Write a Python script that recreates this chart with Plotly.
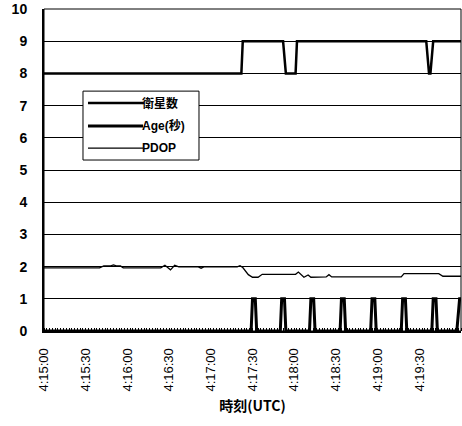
import plotly.graph_objects as go

DAY = "2000-01-01 "

# 衛星数 (number of satellites)
sat_times = ["4:15:00", "4:17:22", "4:17:23", "4:17:52", "4:17:54", "4:18:01", "4:18:02",
             "4:19:35", "4:19:37", "4:19:38", "4:19:40", "4:20:00"]
sat_values = [8, 8, 9, 9, 8, 8, 9, 9, 8, 8, 9, 9]

# Age(秒)
age_times = ["4:15:00",
             "4:17:29", "4:17:30", "4:17:32", "4:17:33",
             "4:17:50", "4:17:51", "4:17:53", "4:17:54",
             "4:18:11", "4:18:12", "4:18:14", "4:18:15",
             "4:18:33", "4:18:34", "4:18:36", "4:18:37",
             "4:18:55", "4:18:56", "4:18:58", "4:18:59",
             "4:19:17", "4:19:18", "4:19:20", "4:19:21",
             "4:19:39", "4:19:40", "4:19:42", "4:19:43",
             "4:19:57", "4:19:59", "4:20:00"]
age_values = [0,
              0, 1, 1, 0,
              0, 1, 1, 0,
              0, 1, 1, 0,
              0, 1, 1, 0,
              0, 1, 1, 0,
              0, 1, 1, 0,
              0, 1, 1, 0,
              0, 1, 1]

# PDOP
pdop_times = ["4:15:00", "4:15:40", "4:15:43", "4:15:48", "4:15:50", "4:15:52", "4:15:55",
              "4:15:57", "4:16:24", "4:16:27", "4:16:31", "4:16:34", "4:16:37", "4:16:51",
              "4:16:53", "4:16:55", "4:17:19", "4:17:21", "4:17:23", "4:17:27", "4:17:30",
              "4:17:34", "4:17:37", "4:18:01", "4:18:03", "4:18:07", "4:18:10", "4:18:12",
              "4:18:23", "4:18:25", "4:18:27", "4:19:17", "4:19:19", "4:19:44", "4:19:47",
              "4:20:00"]
pdop_values = [1.96, 1.96, 2.02, 2.02, 2.05, 2.02, 2.02,
               1.96, 1.96, 2.04, 1.90, 2.04, 1.99, 1.99,
               1.95, 1.99, 1.99, 2.03, 1.97, 1.75, 1.67,
               1.67, 1.76, 1.76, 1.83, 1.67, 1.74, 1.67,
               1.68, 1.75, 1.68, 1.68, 1.78, 1.78, 1.70,
               1.70]

x_tick_labels = ["4:15:00", "4:15:30", "4:16:00", "4:16:30", "4:17:00",
                 "4:17:30", "4:18:00", "4:18:30", "4:19:00", "4:19:30"]
y_ticks = list(range(0, 11))

series_names = ["衛星数", "Age(秒)", "PDOP"]
series_widths = [2.5, 3, 1.3]


def ts(lst):
    return [DAY + ("0" + t if len(t) == 7 else t) for t in lst]


FONT = "Liberation Sans, Arial, Noto Sans CJK JP, sans-serif"

fig = go.Figure()
for name, tt, vv, w in zip(series_names,
                           [sat_times, age_times, pdop_times],
                           [sat_values, age_values, pdop_values],
                           series_widths):
    fig.add_trace(go.Scatter(x=ts(tt), y=vv, mode="lines", name=name,
                             line=dict(color="black", width=w), showlegend=False))

fig.update_layout(
    width=462, height=426,
    margin=dict(l=44, r=1, t=9, b=95),
    paper_bgcolor="white", plot_bgcolor="white",
    font=dict(family=FONT, color="black"),
    showlegend=False,
)

fig.update_xaxes(
    type="date",
    range=[DAY + "04:15:00", DAY + "04:20:00"],
    tickmode="array",
    tickvals=ts(x_tick_labels),
    ticktext=x_tick_labels,
    tickangle=-90,
    tickfont=dict(size=13, family=FONT),
    ticks="",
    ticklabelstandoff=10,
    showgrid=False,
    showline=True, linecolor="black", linewidth=2,
    zeroline=False,
    minor=dict(ticks="inside", ticklen=3, tickcolor="black", tickwidth=1,
               dtick=2000, showgrid=False),
    title=dict(text="時刻(UTC)", font=dict(size=14, family="Noto Sans CJK JP, Liberation Sans",
                                            weight="bold"), standoff=11),
)

fig.update_yaxes(
    range=[0, 10],
    tickmode="array",
    tickvals=y_ticks,
    ticktext=[str(v) for v in y_ticks],
    tickfont=dict(size=14, family=FONT, weight="bold"),
    ticks="",
    ticklabelstandoff=12,
    showgrid=True, gridcolor="black", gridwidth=1,
    showline=True, linecolor="black", linewidth=2,
    zeroline=False,
)

# plot border
fig.add_shape(type="rect", xref="paper", yref="paper", x0=0, x1=1, y0=0, y1=1,
              line=dict(color="black", width=1), fillcolor="rgba(0,0,0,0)", layer="above")

# hand-drawn legend box (to match long sample lines of the original)
fig.add_shape(type="rect", xref="paper", yref="paper", x0=0.0935, x1=0.3717, y0=0.531, y1=0.745,
              line=dict(color="black", width=1), fillcolor="white", layer="above")
legend_rows = [0.708, 0.637, 0.568]
for name, w, yy in zip(series_names, series_widths, legend_rows):
    fig.add_shape(type="line", xref="paper", yref="paper", x0=0.1055, x1=0.2374, y0=yy, y1=yy,
                  line=dict(color="black", width=w), layer="above")
    fig.add_annotation(xref="paper", yref="paper", x=0.2374, y=yy, text=name,
                       showarrow=False, xanchor="left", yanchor="middle",
                       xshift=-3,
                       font=dict(size=12, family="Liberation Sans, Noto Sans CJK JP",
                                 weight="bold", color="black"))

fig.write_html("out.html")
